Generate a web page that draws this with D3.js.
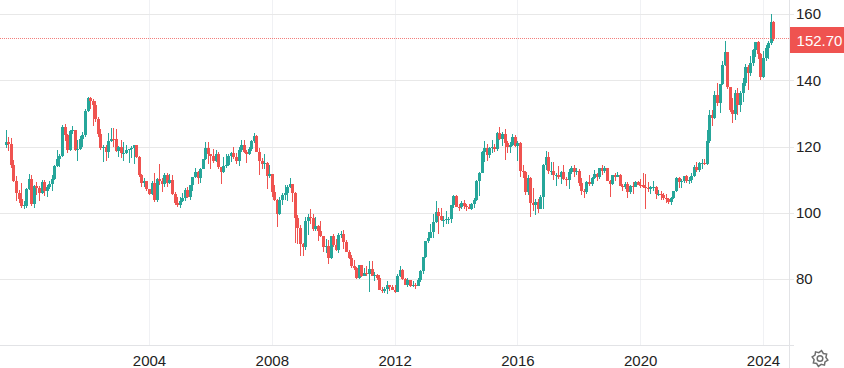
<!DOCTYPE html>
<html>
<head>
<meta charset="utf-8">
<script src="https://cdn.jsdelivr.net/npm/d3@7"></script>
<style>
  body { margin: 0; background: #fff; overflow: hidden; }
  text { font-family: "Liberation Sans", Arial, sans-serif; }
</style>
</head>
<body>
<div id="chart"></div>
<script>
const width = 844;
const height = 368;
const plotRight = 789;
const plotBottom = 345;
const colorUp = "#26a69a";
const colorDown = "#ef5350";
const colorGridH = "#e8e8e8";
const colorGridV = "#f0f1f4";
const colorBorder = "#e2e3e6";
const colorText = "#222";

// monthly candles, May 1999 to May 2024
const firstYear = 1999;
const firstMonth = 4;
const lastPrice = 152.70;
const priceTicks = [80, 100, 120, 140, 160];
const yearTicks = [2004, 2008, 2012, 2016, 2020, 2024];

const opens = [
  120.5,121.4,121.0,114.6,109.7,106.2,104.2,102.2,
  102.1,107.3,110.3,102.9,108.1,107.6,106.1,109.5,106.7,107.9,108.9,110.4,
  114.4,116.4,117.4,126.0,123.6,119.1,124.7,125.0,119.0,119.4,122.4,123.5,
  131.0,134.7,133.8,132.7,128.5,123.9,119.6,119.9,118.4,121.8,122.5,122.4,
  118.8,119.9,118.1,118.1,119.0,119.4,119.8,120.5,116.9,111.4,109.1,109.6,
  107.2,105.9,109.1,103.9,110.4,109.6,108.8,111.5,109.2,110.1,105.8,103.1,
  102.6,103.7,104.7,107.1,105.0,108.4,110.9,112.5,110.6,113.5,116.4,119.8,
  117.9,117.2,115.8,117.8,113.9,112.6,114.4,114.7,117.4,118.2,116.9,115.8,
  119.0,120.7,118.5,117.8,119.5,121.7,123.2,118.6,115.7,114.8,115.3,111.2,
  111.7,106.4,103.9,99.7,103.9,105.5,106.2,108.0,108.8,106.0,98.5,95.5,
  90.6,89.9,97.6,98.9,98.6,95.3,96.3,94.7,93.0,89.7,90.1,86.4,
  93.0,90.3,89.0,93.5,93.8,91.2,88.4,86.5,84.2,83.5,80.4,84.3,
  81.1,82.0,81.8,83.1,81.2,81.5,80.5,76.7,76.6,77.1,78.3,77.6,
  76.9,76.3,81.1,82.9,80.1,78.3,79.8,78.1,78.4,78.0,79.8,82.5,
  86.7,91.7,92.6,94.2,97.4,100.4,99.2,97.9,98.1,98.2,98.4,102.4,
  105.3,102.0,101.8,103.2,102.2,101.8,101.3,102.8,104.1,109.6,112.3,118.6,
  119.8,117.5,119.6,120.1,119.4,124.1,122.4,123.9,121.2,119.9,120.6,123.1,
  120.2,121.1,112.7,112.6,106.5,110.7,103.2,102.4,103.4,101.3,104.8,114.5,
  117.0,112.8,112.8,111.4,111.5,110.8,112.4,110.2,110.0,112.5,113.6,112.5,
  112.7,109.2,106.7,106.3,109.3,108.8,110.7,111.9,111.0,113.7,112.9,113.6,
  109.7,108.9,111.4,110.8,111.4,108.3,107.9,108.8,106.4,108.1,108.0,109.5,
  108.6,108.4,107.9,107.5,107.2,107.8,107.9,105.9,105.9,105.5,104.7,104.3,
  103.3,104.7,106.6,110.7,109.3,109.6,111.1,109.7,110.0,111.3,114.0,113.2,
  115.1,115.1,115.0,121.7,129.7,128.7,135.7,133.2,138.9,144.7,148.7,138.1,
  131.1,130.1,136.2,132.8,136.3,139.3,144.3,142.3,145.5,149.4,151.7,148.2,
  141.0,146.9,150.0,151.3,157.8
];
const highs = [
  125.0,122.9,122.6,116.0,111.2,107.0,109.0,103.8,
  107.6,112.0,111.5,108.5,109.5,108.2,110.0,110.0,108.5,109.7,111.5,114.6,
  119.0,118.0,126.5,126.9,124.0,125.0,126.3,125.2,122.0,123.2,124.5,131.5,
  135.1,135.2,134.5,133.8,129.1,125.5,120.6,120.5,124.3,125.7,125.6,125.4,
  120.3,122.0,121.5,120.5,119.4,120.4,120.5,120.6,117.2,111.8,110.5,109.8,
  107.4,109.8,112.1,110.5,114.9,110.5,112.3,112.3,111.8,111.5,106.4,105.0,
  104.9,106.0,107.5,108.0,108.6,111.0,113.7,112.9,113.7,116.4,121.4,121.4,
  118.0,119.4,119.0,118.6,113.9,117.0,117.8,118.0,118.5,119.9,118.2,119.9,
  122.2,122.1,119.0,120.0,122.0,124.1,123.7,119.8,116.8,117.8,115.6,114.7,
  112.0,108.5,104.3,105.0,106.0,108.6,108.5,110.7,108.9,106.3,99.5,96.5,
  90.9,98.9,99.9,101.4,99.7,98.9,96.5,97.8,93.2,92.3,92.0,93.1,
  93.7,92.1,93.9,94.7,94.9,92.0,89.0,87.3,85.9,83.9,84.4,84.5,
  83.6,84.0,85.5,85.5,82.2,81.7,81.5,77.8,77.8,79.5,78.3,78.2,
  78.3,81.6,84.1,83.3,80.5,80.6,79.9,79.6,78.9,80.4,82.8,86.8,
  91.7,94.4,96.7,99.9,103.7,101.5,101.5,99.1,100.6,99.0,102.4,105.4,
  105.4,102.8,103.7,104.1,102.7,102.8,103.1,104.5,110.0,112.5,118.9,121.8,
  120.8,119.9,122.0,120.8,124.5,125.9,124.6,125.3,121.7,121.5,123.8,123.7,
  121.7,121.5,114.5,112.7,111.4,110.8,107.5,104.3,104.3,105.5,114.8,118.7,
  118.6,115.6,115.5,112.2,114.4,112.9,114.5,111.0,113.3,114.4,114.7,113.8,
  113.4,110.5,107.3,109.6,111.4,111.0,113.2,112.1,113.7,114.6,114.2,113.8,
  110.0,111.5,112.1,112.4,112.0,108.8,109.3,109.3,108.5,109.3,109.7,109.7,
  110.3,112.2,111.7,109.4,108.1,109.8,108.2,107.0,106.6,106.1,105.7,104.7,
  104.9,106.7,110.9,110.9,110.2,111.1,111.6,110.8,112.1,114.7,115.5,115.4,
  116.3,116.3,125.1,131.2,131.3,137.0,139.4,139.0,145.9,151.9,148.8,138.2,
  134.8,137.1,137.9,137.0,140.9,145.1,144.9,147.4,149.7,151.7,151.9,148.3,
  149.0,150.9,151.9,160.2,158.0
];
const lows = [
  119.8,118.8,113.6,109.4,103.6,103.2,101.5,101.3,
  101.5,107.0,102.3,101.5,105.5,103.8,105.7,105.3,104.9,107.2,106.8,110.0,
  114.1,114.0,117.1,121.7,118.3,118.8,123.8,118.8,115.8,119.0,119.9,122.9,
  130.5,131.5,126.3,127.6,123.0,119.2,115.5,115.8,116.7,121.5,120.0,118.4,
  117.0,116.6,115.9,117.8,115.3,116.8,115.0,116.6,111.0,107.9,107.9,106.7,
  105.5,105.5,103.5,103.4,108.5,106.5,108.0,108.0,108.7,105.6,102.5,101.8,
  101.7,103.5,103.8,104.6,104.0,106.7,110.5,108.8,109.2,113.3,116.0,115.0,
  113.4,115.3,115.5,113.5,108.9,112.2,113.7,114.2,115.4,116.4,114.8,114.4,
  118.5,118.2,115.2,117.6,118.9,121.1,118.4,111.6,113.3,113.3,107.2,110.6,
  104.9,103.8,95.7,99.5,102.6,104.0,103.8,107.5,103.5,90.9,90.8,87.1,
  87.1,88.9,93.5,96.8,94.5,94.5,91.7,92.8,88.2,88.0,84.8,86.3,
  89.8,88.5,88.1,92.5,89.1,88.2,86.1,83.6,82.8,80.2,80.2,80.9,
  81.0,81.0,76.2,81.0,79.6,79.7,76.7,75.9,75.9,75.6,76.6,76.8,
  76.0,76.2,80.8,79.8,78.2,77.7,77.8,77.8,77.1,77.9,79.1,81.7,
  86.5,91.0,92.6,92.5,97.1,93.7,97.6,95.8,96.9,96.9,97.1,101.6,
  101.8,100.8,101.2,101.4,100.8,101.2,101.1,101.5,103.8,105.2,112.3,115.6,
  115.9,116.8,118.3,118.5,118.9,122.0,120.4,116.2,118.2,118.1,120.3,119.9,
  115.9,110.9,110.7,105.6,105.5,99.0,100.7,99.6,100.1,101.2,101.2,113.0,
  112.0,111.6,110.1,108.1,110.2,108.8,109.9,108.3,107.3,111.7,110.8,111.4,
  108.3,105.5,104.6,105.7,108.1,108.1,110.3,109.8,110.4,111.4,112.3,109.6,
  104.8,108.5,109.7,110.8,108.3,106.8,107.2,104.5,105.7,105.7,107.9,108.4,
  107.6,107.5,101.2,106.4,105.9,106.6,104.2,105.2,104.0,104.0,103.2,102.9,
  102.6,104.4,106.4,107.5,107.5,109.2,109.1,108.7,109.1,110.8,112.5,112.6,
  113.5,114.5,114.7,121.3,126.3,128.6,132.5,130.4,138.8,144.6,137.5,130.6,
  127.2,128.1,129.6,130.6,133.5,138.4,137.2,141.5,144.4,147.3,146.7,140.3,
  140.8,145.9,146.5,150.8,151.9
];
const closes = [
  121.4,121.0,114.6,109.7,106.1,104.2,102.2,102.5,
  107.3,110.3,102.8,108.1,107.6,106.1,109.5,106.7,107.9,108.9,110.4,114.4,
  116.4,117.4,126.0,123.6,119.1,124.7,125.0,119.0,119.4,122.4,123.5,131.0,
  134.7,133.8,132.7,128.5,123.9,119.6,119.9,118.4,121.8,122.5,122.4,118.8,
  119.9,118.1,118.1,119.0,119.4,119.8,120.5,116.9,111.4,109.1,109.6,107.2,
  105.9,109.1,103.9,110.4,109.6,108.8,111.5,109.2,110.1,105.8,103.1,102.6,
  103.7,104.7,107.1,105.0,108.4,110.9,112.5,110.6,113.5,116.4,119.8,117.9,
  117.2,115.8,117.8,113.9,112.6,114.4,114.7,117.4,118.2,116.9,115.8,119.0,
  120.7,118.5,117.8,119.5,121.7,123.2,118.6,115.7,114.8,115.3,111.2,111.7,
  106.4,103.9,99.7,103.9,105.5,106.2,108.0,108.8,106.0,98.5,95.5,90.6,
  89.9,97.6,98.9,98.6,95.3,96.3,94.7,93.0,89.7,90.1,86.4,93.0,
  90.3,89.0,93.5,93.8,91.2,88.4,86.5,84.2,83.5,80.4,84.3,81.1,
  82.0,81.8,83.1,81.2,81.5,80.5,76.7,76.6,77.1,78.3,77.6,76.9,
  76.3,81.1,82.9,80.1,78.3,79.8,78.1,78.4,78.0,79.8,82.5,86.7,
  91.7,92.6,94.2,97.4,100.4,99.2,97.9,98.1,98.2,98.4,102.4,105.3,
  102.0,101.8,103.2,102.2,101.8,101.3,102.8,104.1,109.6,112.3,118.6,119.8,
  117.5,119.6,120.1,119.4,124.1,122.4,123.9,121.2,119.9,120.6,123.1,120.2,
  121.1,112.7,112.6,106.5,110.7,103.2,102.4,103.4,101.3,104.8,114.5,117.0,
  112.8,112.8,111.4,111.5,110.8,112.4,110.2,110.0,112.5,113.6,112.5,112.7,
  109.2,106.7,106.3,109.3,108.8,110.7,111.9,111.0,113.7,112.9,113.6,109.7,
  108.9,111.4,110.8,111.4,108.3,107.9,108.8,106.4,108.1,108.0,109.5,108.6,
  108.4,107.9,107.5,107.2,107.8,107.9,105.9,105.9,105.5,104.7,104.3,103.3,
  104.7,106.6,110.7,109.3,109.6,111.1,109.7,110.0,111.3,114.0,113.2,115.1,
  115.1,115.0,121.7,129.7,128.7,135.7,133.2,138.9,144.7,148.7,138.1,131.1,
  130.1,136.2,132.8,136.3,139.3,144.3,142.3,145.5,149.4,151.7,148.2,141.0,
  146.9,150.0,151.3,157.8,152.7
];

const yearIndex = y => (y - firstYear) * 12 - firstMonth;

const x = d3.scaleLinear()
            .domain([yearIndex(2004), yearIndex(2024)])
            .range([149.5, 763.5]);

const y = d3.scaleLinear()
            .domain([80, 160])
            .range([279.5, 14.5]);

const svg = d3.select("#chart")
              .append("svg")
              .attr("width", width)
              .attr("height", height)
              .style("display", "block");

// vertical grid and time labels
const xAxis = d3.axisBottom(x)
                .tickValues(yearTicks.map(yearIndex))
                .tickFormat(i => firstYear + Math.round((i + firstMonth) / 12))
                .tickSize(0)
                .tickPadding(0)
                .offset(0);

svg.append("g")
   .attr("transform", `translate(0,${plotBottom})`)
   .call(xAxis)
   .call(g => g.select(".domain").remove())
   .call(g => g.selectAll("text")
               .attr("y", 10)
               .attr("dy", "0.71em")
               .attr("fill", colorText)
               .attr("font-size", 15))
   .call(g => g.selectAll(".tick")
               .append("line")
               .attr("y2", -plotBottom)
               .attr("stroke", colorGridV)
               .attr("shape-rendering", "crispEdges"));

// horizontal grid and price labels
const yAxis = d3.axisRight(y)
                .tickValues(priceTicks)
                .tickSize(0)
                .tickPadding(0)
                .offset(0);

svg.append("g")
   .attr("transform", `translate(${plotRight},0)`)
   .call(yAxis)
   .call(g => g.select(".domain").remove())
   .call(g => g.selectAll("text")
               .attr("x", 7)
               .attr("dy", "0.33em")
               .attr("fill", colorText)
               .attr("font-size", 15))
   .call(g => g.selectAll(".tick")
               .append("line")
               .attr("x1", -plotRight)
               .attr("x2", 5)
               .attr("stroke", colorGridH)
               .attr("shape-rendering", "crispEdges"));

// chart borders
svg.append("line")
   .attr("x1", plotRight + 0.5).attr("x2", plotRight + 0.5)
   .attr("y1", 0).attr("y2", height)
   .attr("stroke", colorBorder);

svg.append("line")
   .attr("x1", 0).attr("x2", 794)
   .attr("y1", plotBottom + 0.5).attr("y2", plotBottom + 0.5)
   .attr("stroke", colorBorder);

// candles
const candles = closes.map((c, i) => ({i: i, o: opens[i], h: highs[i], l: lows[i], c: c}));

const candle = svg.append("g")
                  .attr("shape-rendering", "crispEdges")
                  .selectAll("g")
                  .data(candles)
                  .join("g")
                  .attr("fill", d => d.c >= d.o ? colorUp : colorDown);

candle.append("rect")
      .attr("x", d => Math.floor(x(d.i)))
      .attr("width", 1)
      .attr("y", d => y(d.h))
      .attr("height", d => y(d.l) - y(d.h));

candle.append("rect")
      .attr("x", d => Math.floor(x(d.i)) - 1)
      .attr("width", 3)
      .attr("y", d => y(Math.max(d.o, d.c)))
      .attr("height", d => Math.max(1, Math.abs(y(d.o) - y(d.c))));

// last price line and tag
const lastY = Math.floor(y(lastPrice)) + 0.5;

svg.append("line")
   .attr("x1", 0).attr("x2", plotRight)
   .attr("y1", lastY).attr("y2", lastY)
   .attr("stroke", colorDown)
   .attr("stroke-opacity", 0.75)
   .attr("stroke-dasharray", "1 1");

svg.append("rect")
   .attr("x", plotRight + 1)
   .attr("width", width - plotRight - 1)
   .attr("y", lastY - 11.5)
   .attr("height", 26)
   .attr("fill", colorDown);

svg.append("text")
   .attr("x", 819.5)
   .attr("y", lastY + 7.5)
   .attr("text-anchor", "middle")
   .attr("fill", "#fff")
   .attr("font-size", 15)
   .text(lastPrice.toFixed(2));

// settings gear
const gearTeeth = d3.range(16).map(k => {
  const r = k % 2 === 0 ? 8 : 6;
  const a = (k + 0.5) * Math.PI / 8;
  return [r * Math.cos(a), r * Math.sin(a)];
});
const gear = svg.append("g")
                .attr("transform", "translate(820,358.5)")
                .attr("fill", "none")
                .attr("stroke", "#6e6e6e")
                .attr("stroke-width", 1.5);
gear.append("path").attr("d", d3.line().curve(d3.curveLinearClosed)(gearTeeth));
gear.append("circle").attr("r", 2.8);
</script>
</body>
</html>
